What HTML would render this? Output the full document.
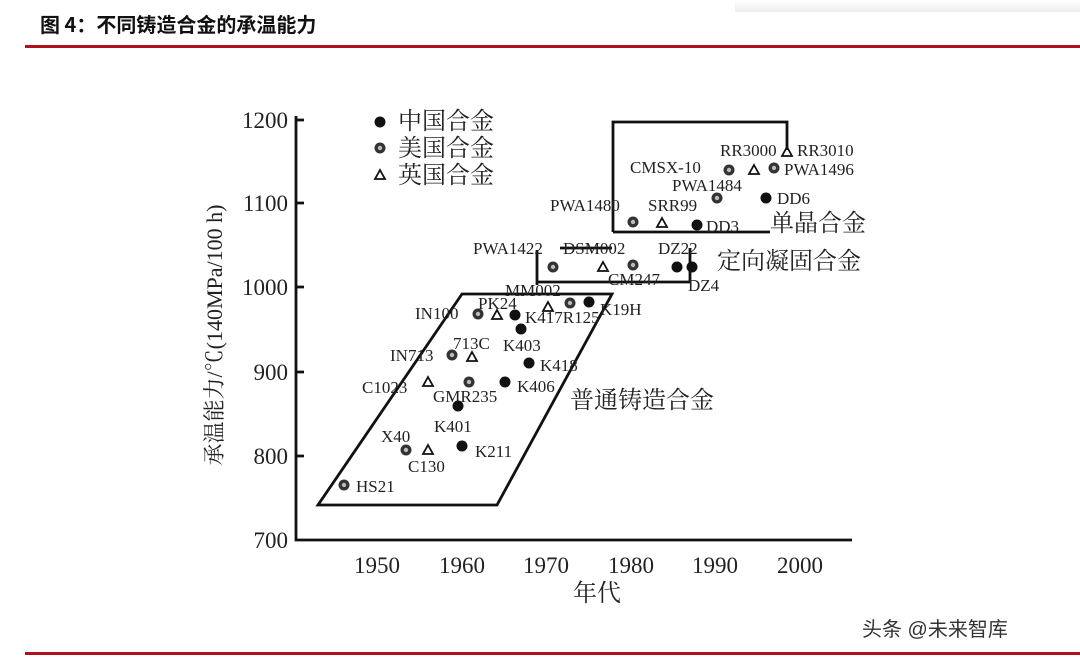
<!DOCTYPE html>
<html><head><meta charset="utf-8"><style>
html,body{margin:0;padding:0;background:#fff;}
body{width:1080px;height:658px;position:relative;overflow:hidden;font-family:"Liberation Sans","Noto Sans CJK SC",sans-serif;}
</style></head><body>
<div style="position:absolute;left:735px;top:0;width:345px;height:12px;background:linear-gradient(#fff,#eee);"></div>
<div style="position:absolute;left:40px;top:9px;font-size:20px;font-weight:bold;color:#111;font-family:'Noto Sans CJK SC',sans-serif;">图 4：不同铸造合金的承温能力</div>
<div style="position:absolute;left:25px;top:45px;width:1055px;height:3px;background:#b0121c;"></div>
<div style="position:absolute;left:25px;top:652px;width:1055px;height:3px;background:#b0121c;"></div>
<svg width="1080" height="658" style="position:absolute;left:0;top:0" font-family="Liberation Serif, Noto Serif CJK SC, serif">
<defs>
<g id="c"><circle r="5.5" fill="#111"/></g>
<g id="u"><circle r="5.5" fill="#333"/><circle r="2.2" fill="#bbb"/></g>
<g id="t"><path d="M0,-5 L5,4 L-5,4 Z" fill="none" stroke="#111" stroke-width="1.8"/></g>
</defs>
<g stroke="#111" stroke-width="2.8" fill="none">
<path d="M296,116 V540 H852"/>
<path d="M296,120h8M296,203h8M296,287h8M296,372h8M296,456h8"/>
<path d="M318,505 H497 L612,294 H462 Z"/>
<path d="M537,285 V250 M537,265 V282 H690 M690,282 V248 M560,248 H612"/>
<path d="M613,232 V122 H787 V150 M613,232 H770"/>
</g>
<g font-size="23" fill="#222" text-anchor="end">
<text x="288" y="128">1200</text><text x="288" y="211">1100</text><text x="288" y="295">1000</text><text x="288" y="380">900</text><text x="288" y="464">800</text><text x="288" y="548">700</text>
</g>
<g font-size="23" fill="#222" text-anchor="middle">
<text x="377" y="573">1950</text><text x="462" y="573">1960</text><text x="546" y="573">1970</text><text x="631" y="573">1980</text><text x="715" y="573">1990</text><text x="800" y="573">2000</text>
<text x="597" y="601" font-size="24">年代</text>
</g>
<text transform="translate(222,335) rotate(-90)" text-anchor="middle" font-size="22" fill="#222">承温能力/℃(140MPa/100 h)</text>
<g font-size="24" fill="#222">
<use href="#c" x="380" y="122"/><text x="398" y="129">中国合金</text>
<use href="#u" x="380" y="148"/><text x="398" y="156">美国合金</text>
<use href="#t" x="380" y="175"/><text x="398" y="183">英国合金</text>
<text x="770" y="231">单晶合金</text>
<text x="717" y="269">定向凝固合金</text>
<text x="570" y="408">普通铸造合金</text>
</g>
<g font-size="17" fill="#222">
<use href="#t" x="787" y="152"/><text x="720" y="156">RR3000</text><text x="797" y="156">RR3010</text>
<use href="#u" x="729" y="170"/><use href="#t" x="754" y="170"/><use href="#u" x="774" y="168"/>
<text x="630" y="173">CMSX-10</text><text x="784" y="175">PWA1496</text>
<text x="672" y="191">PWA1484</text><use href="#u" x="717" y="198"/>
<use href="#c" x="766" y="198"/><text x="777" y="204">DD6</text>
<text x="550" y="211">PWA1480</text><text x="648" y="211">SRR99</text>
<use href="#u" x="633" y="222"/><use href="#t" x="662" y="223"/><use href="#c" x="697" y="225"/><text x="706" y="232">DD3</text>
<text x="473" y="254">PWA1422</text><text x="563" y="254">DSM002</text><text x="658" y="254">DZ22</text>
<use href="#u" x="553" y="267"/><use href="#t" x="603" y="267"/><use href="#u" x="633" y="265"/>
<use href="#c" x="677" y="267"/><use href="#c" x="692" y="267"/>
<text x="608" y="285">CM247</text><text x="688" y="291">DZ4</text>
<text x="505" y="296">MM002</text>
<text x="478" y="309">PK24</text><use href="#t" x="548" y="307"/><use href="#u" x="570" y="303"/><use href="#c" x="589" y="302"/><text x="600" y="315">K19H</text>
<text x="415" y="319">IN100</text><use href="#u" x="478" y="314"/><use href="#t" x="497" y="315"/><use href="#c" x="515" y="315"/><text x="525" y="323">K417R125</text>
<use href="#c" x="521" y="329"/><text x="453" y="349">713C</text><text x="503" y="351">K403</text>
<text x="390" y="361">IN713</text><use href="#u" x="452" y="355"/><use href="#t" x="472" y="357"/>
<use href="#c" x="529" y="363"/><text x="540" y="371">K418</text>
<text x="362" y="393">C1023</text><use href="#t" x="428" y="382"/><use href="#u" x="469" y="382"/><use href="#c" x="505" y="382"/><text x="517" y="392">K406</text>
<text x="433" y="402">GMR235</text><use href="#c" x="458" y="406"/><text x="434" y="432">K401</text>
<text x="381" y="442">X40</text><use href="#u" x="406" y="450"/><use href="#t" x="428" y="450"/><use href="#c" x="462" y="446"/><text x="475" y="457">K211</text>
<text x="408" y="472">C130</text>
<use href="#u" x="344" y="485"/><text x="356" y="492">HS21</text>
</g>
<text x="862" y="636" font-size="20" fill="#333" font-family="Liberation Sans, Noto Sans CJK SC, sans-serif">头条 @未来智库</text>
</svg>
</body></html>
